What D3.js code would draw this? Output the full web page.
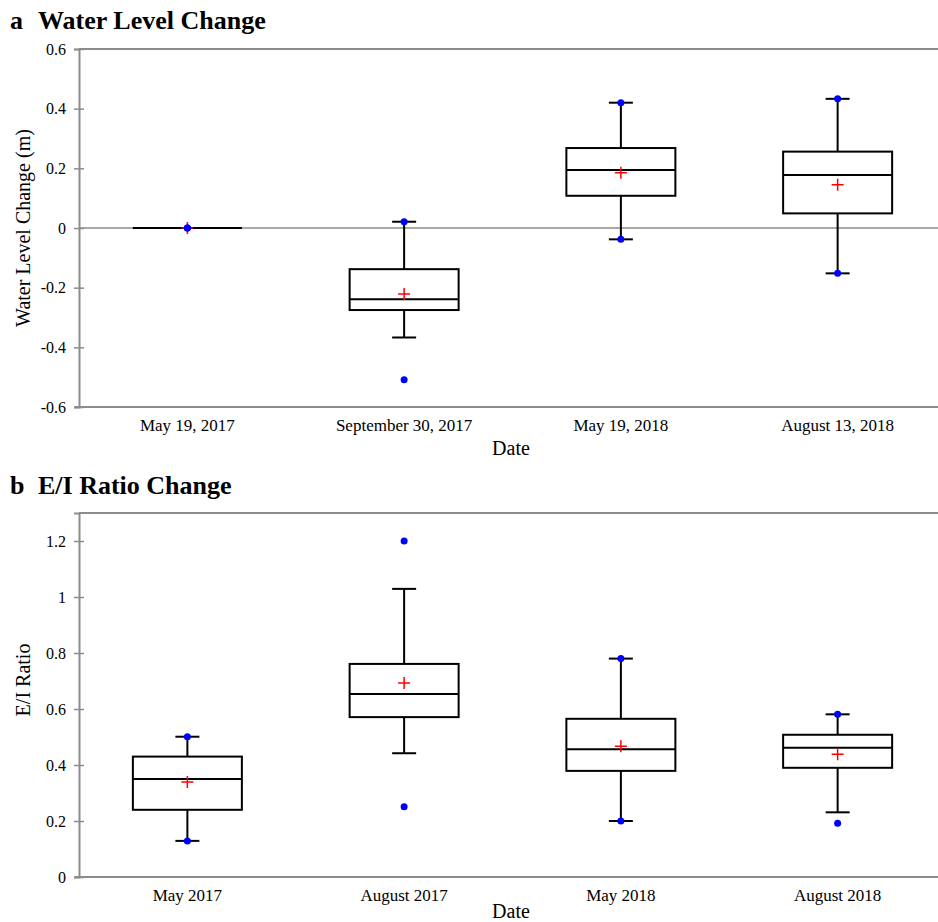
<!DOCTYPE html>
<html>
<head>
<meta charset="utf-8">
<script src="https://cdn.jsdelivr.net/npm/d3@7"></script>
<style>
  body { margin: 0; background: #fff; }
  svg { display: block; font-family: "Liberation Serif", "Times New Roman", serif; }
</style>
</head>
<body>
<svg id="chart" width="938" height="922"></svg>
<script>
// panel a - water level change
const catsA = ["May 19, 2017", "September 30, 2017", "May 19, 2018", "August 13, 2018"];
const lowA = [0, -0.367, -0.038, -0.152];
const q1A = [0, -0.275, 0.108, 0.049];
const medA = [0, -0.239, 0.194, 0.178];
const q3A = [0, -0.138, 0.268, 0.256];
const highA = [0, 0.021, 0.42, 0.433];
const meanA = [0, -0.221, 0.185, 0.145];
const minA = [0, -0.509, -0.038, -0.152];
const maxA = [0, 0.021, 0.42, 0.433];
const ticksA = [-0.6, -0.4, -0.2, 0, 0.2, 0.4, 0.6];

// panel b - E/I ratio change
const catsB = ["May 2017", "August 2017", "May 2018", "August 2018"];
const lowB = [0.129, 0.442, 0.2, 0.231];
const q1B = [0.24, 0.571, 0.379, 0.39];
const medB = [0.35, 0.654, 0.456, 0.462];
const q3B = [0.43, 0.761, 0.565, 0.508];
const highB = [0.501, 1.029, 0.78, 0.581];
const meanB = [0.339, 0.693, 0.467, 0.438];
const minB = [0.129, 0.251, 0.2, 0.192];
const maxB = [0.501, 1.2, 0.78, 0.581];
const ticksB = [0, 0.2, 0.4, 0.6, 0.8, 1, 1.2];

const svg = d3.select("#chart");
const left = 79, right = 946;
const axisColor = "#8c8c8c";

function drawPanel(p) {
  const x = d3.scaleBand().domain(p.cats).range([left, right]);
  const y = d3.scaleLinear().domain(p.domain).range([p.bottom, p.top]);
  const bw = 109, cap = 24;
  const g = svg.append("g");

  // title
  const t = g.append("text").attr("y", p.titleY).attr("font-size", 26).attr("font-weight", "bold");
  t.append("tspan").attr("x", 10).text(p.letter);
  t.append("tspan").attr("x", 38).text(p.title);

  // frame lines (top, left, bottom)
  g.append("line").attr("x1", left).attr("x2", right).attr("y1", p.top).attr("y2", p.top)
    .attr("stroke", axisColor).attr("stroke-width", 2);
  g.append("line").attr("x1", left - 4).attr("x2", right).attr("y1", p.bottom).attr("y2", p.bottom)
    .attr("stroke", axisColor).attr("stroke-width", 2);
  if (p.zero) {
    g.append("line").attr("x1", left).attr("x2", right).attr("y1", y(0)).attr("y2", y(0))
      .attr("stroke", axisColor).attr("stroke-width", 1.5);
  }

  const ya = g.append("g").attr("transform", `translate(${left},0)`)
    .attr("font-family", "Liberation Serif")
    .call(d3.axisLeft(y).tickValues(p.ticks).tickFormat(d => String(+d.toFixed(1))).tickSize(5).tickPadding(13));
  ya.attr("font-family", "Liberation Serif");
  ya.select(".domain").attr("stroke", axisColor).attr("stroke-width", 2);
  ya.selectAll(".tick line").attr("x1", 5).attr("x2", -5).attr("stroke", axisColor).attr("stroke-width", 1.5);
  ya.selectAll(".tick text").attr("font-size", 16).attr("fill", "#000").attr("x", -13);

  const xa = g.append("g").attr("transform", `translate(0,${p.bottom})`)
    .call(d3.axisBottom(x).tickSize(0).tickPadding(12));
  xa.attr("font-family", "Liberation Serif");
  xa.select(".domain").remove();
  xa.selectAll(".tick text").attr("font-size", 17).attr("fill", "#000");

  g.append("text").attr("x", 511).attr("y", p.dateY).attr("text-anchor", "middle")
    .attr("font-size", 20).text("Date");
  g.append("text").attr("transform", `translate(30,${p.labelY}) rotate(-90)`)
    .attr("text-anchor", "middle").attr("font-size", 20).text(p.ylabel);

  const idx = d3.range(p.cats.length);
  const cx = i => x(p.cats[i]) + x.bandwidth() / 2;
  const boxes = g.selectAll(".box").data(idx).join("g").attr("class", "box");
  const st = sel => sel.attr("stroke", "#000").attr("stroke-width", 2);

  // whiskers
  st(boxes.append("line").attr("x1", cx).attr("x2", cx).attr("y1", i => y(p.high[i])).attr("y2", i => y(p.q3[i])));
  st(boxes.append("line").attr("x1", cx).attr("x2", cx).attr("y1", i => y(p.q1[i])).attr("y2", i => y(p.low[i])));
  st(boxes.append("line").attr("x1", i => cx(i) - cap / 2).attr("x2", i => cx(i) + cap / 2)
    .attr("y1", i => y(p.high[i])).attr("y2", i => y(p.high[i])));
  st(boxes.append("line").attr("x1", i => cx(i) - cap / 2).attr("x2", i => cx(i) + cap / 2)
    .attr("y1", i => y(p.low[i])).attr("y2", i => y(p.low[i])));
  // box
  st(boxes.append("rect").attr("x", i => cx(i) - bw / 2).attr("width", bw)
    .attr("y", i => y(p.q3[i])).attr("height", i => y(p.q1[i]) - y(p.q3[i])).attr("fill", "none"));
  st(boxes.append("line").attr("x1", i => cx(i) - bw / 2).attr("x2", i => cx(i) + bw / 2)
    .attr("y1", i => y(p.med[i])).attr("y2", i => y(p.med[i])));

  // mean +
  boxes.append("path")
    .attr("d", i => `M${cx(i) - 6},${y(p.mean[i])}h12M${cx(i)},${y(p.mean[i]) - 6}v12`)
    .attr("stroke", "red").attr("stroke-width", 1.5);
  // min / max dots
  boxes.append("circle").attr("cx", cx).attr("cy", i => y(p.min[i])).attr("r", 3.5).attr("fill", "blue");
  boxes.append("circle").attr("cx", cx).attr("cy", i => y(p.max[i])).attr("r", 3.5).attr("fill", "blue");
}

drawPanel({
  letter: "a", title: "Water Level Change", titleY: 29, ylabel: "Water Level Change (m)", labelY: 228,
  cats: catsA, low: lowA, q1: q1A, med: medA, q3: q3A, high: highA, mean: meanA, min: minA, max: maxA,
  ticks: ticksA, domain: [-0.6, 0.6], top: 49, bottom: 407, zero: true, dateY: 455
});
drawPanel({
  letter: "b", title: "E/I Ratio Change", titleY: 494, ylabel: "E/I Ratio", labelY: 680,
  cats: catsB, low: lowB, q1: q1B, med: medB, q3: q3B, high: highB, mean: meanB, min: minB, max: maxB,
  ticks: ticksB, domain: [0, 1.3], top: 513, bottom: 877, zero: false, dateY: 918
});
</script>
</body>
</html>
